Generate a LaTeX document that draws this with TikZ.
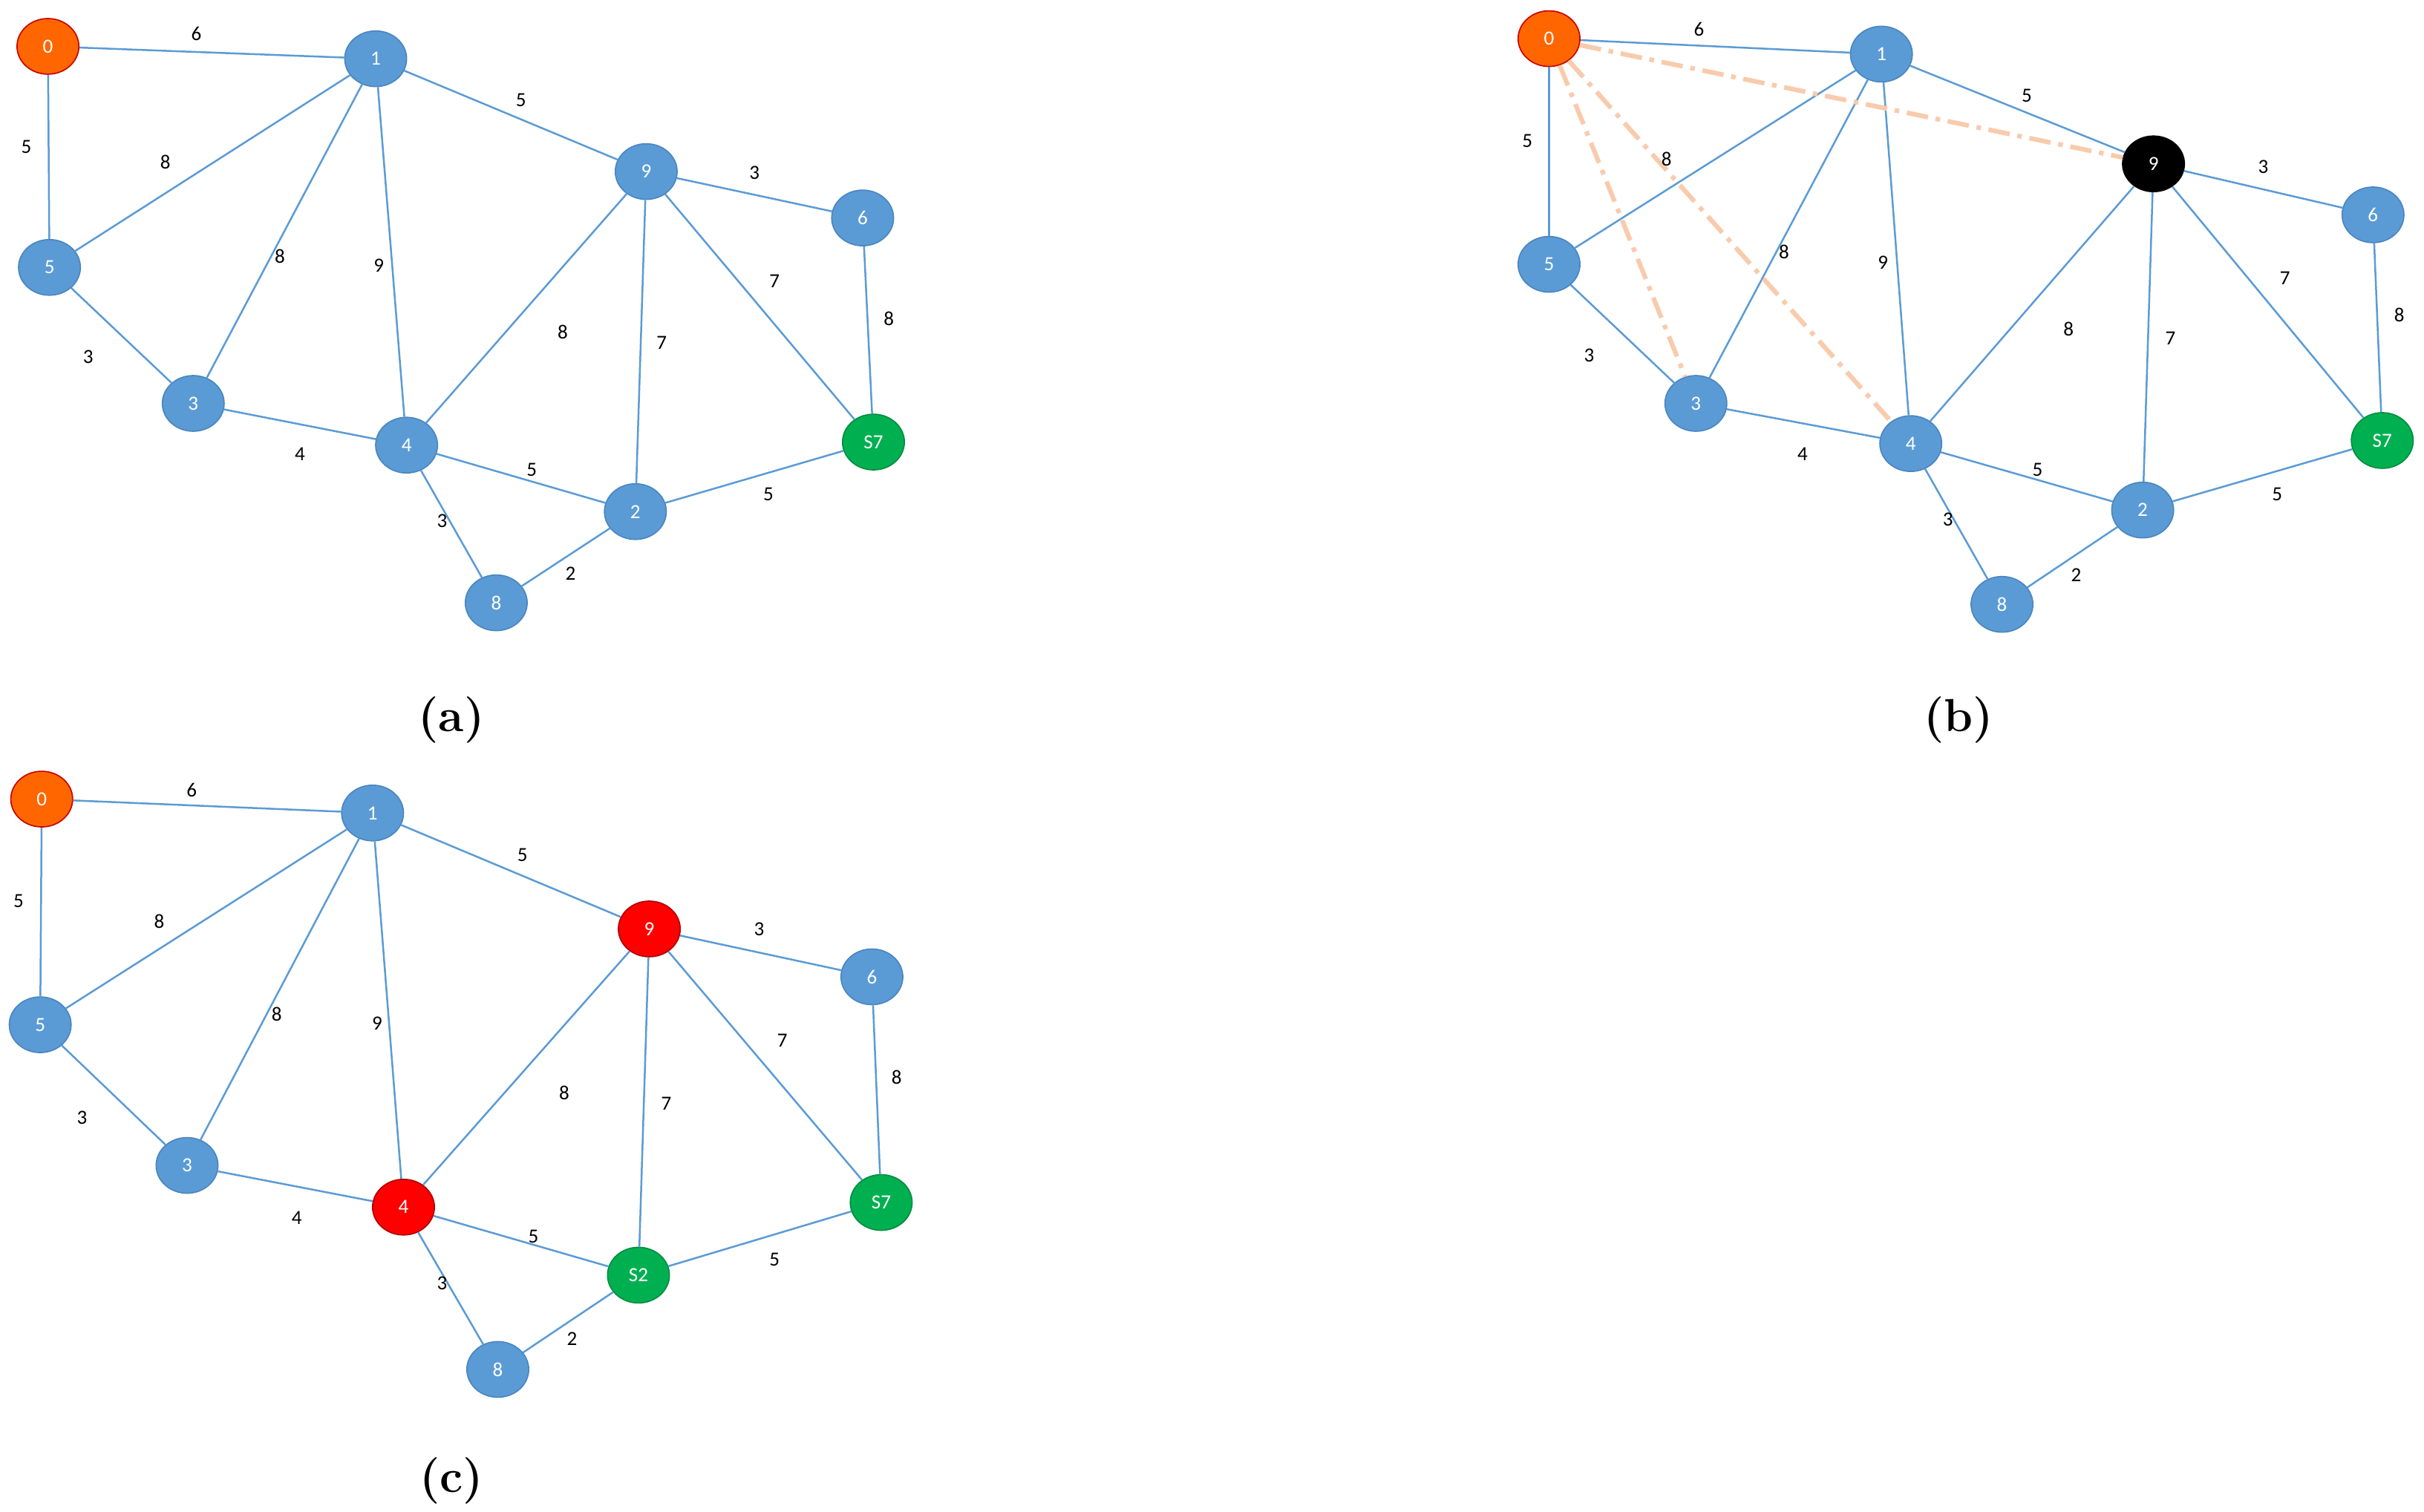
\documentclass[tikz,border=0pt]{standalone}
\usepackage{fontspec}
\usetikzlibrary{shapes.geometric}
\newfontfamily\carl{Carlito}
\begin{document}
\begin{tikzpicture}[x=1pt,y=-1pt,
 v/.style={ellipse,draw=vb,fill=vf,minimum width=40pt,minimum height=36pt,inner sep=0pt,text=white,font=\carl\fontsize{13}{15}\selectfont,line width=0.8pt},
 org/.style={v,fill=vo,draw=red!80!black},
 grn/.style={v,fill=vg,draw=vg!80!black},
 rd/.style={v,fill=red,draw=red!70!black},
 blk/.style={v,fill=black,draw=black},
 e/.style={draw=vf,line width=1.2pt},
 w/.style={font=\carl\fontsize{13}{15}\selectfont,inner sep=0pt},
 dd/.style={draw=peach,line width=3pt,dash pattern=on 14pt off 5pt on 3pt off 5pt},
 capt/.style={font=\bfseries\fontsize{30}{34}\selectfont}]
\definecolor{vf}{HTML}{5B9BD5}\definecolor{vb}{HTML}{4A86C0}
\definecolor{vo}{HTML}{FF6600}\definecolor{vg}{HTML}{00B050}\definecolor{peach}{HTML}{F8CBAD}
\useasboundingbox (0,0) rectangle (1568,978);
% ---- (a)
\node[org] (a0) at (31,30) {0}; \node[v] (a1) at (243,38) {1}; \node[v] (a9) at (418,111) {9};
\node[v] (a6) at (558,141) {6}; \node[v] (a5) at (32,173) {5}; \node[v] (a3) at (125,261) {3};
\node[v] (a4) at (263,288) {4}; \node[grn] (a7) at (565,286) {S7}; \node[v] (a2) at (411,331) {2};
\node[v] (a8) at (321,390) {8};
\foreach \p/\q in {0/1,0/5,1/5,1/3,1/4,1/9,9/6,9/4,9/2,9/7,6/7,5/3,3/4,4/2,4/8,8/2,2/7}
 \path[e] (a\p) -- (a\q);
\foreach \n/\x/\y/\t in {1/127/22/6,2/17/95/5,3/107/105/8,4/181/166/8,5/245/172/9,6/337/65/5,7/488/112/3,8/364/215/8,9/428/222/7,10/501/182/7,11/575/206/8,12/57/231/3,13/194/294/4,14/344/304/5,15/286/337/3,16/369/371/2,17/497/320/5}
 \node[w] (al\n) at (\x,\y) {\t};
\node[capt] (ca) at (292,466) {(a)};
% ---- (b)
\node[org] (b0) at (1002,25) {0}; \node[v] (b1) at (1217,35) {1}; \node[blk] (b9) at (1393,106) {9};
\node[v] (b6) at (1535,139) {6}; \node[v] (b5) at (1002,171) {5}; \node[v] (b3) at (1097,261) {3};
\node[v] (b4) at (1236,287) {4}; \node[grn] (b7) at (1541,285) {S7}; \node[v] (b2) at (1386,330) {2};
\node[v] (b8) at (1295,391) {8};
\foreach \p/\q in {0/1,0/5,1/5,1/3,1/4,1/9,9/6,9/4,9/2,9/7,6/7,5/3,3/4,4/2,4/8,8/2,2/7}
 \path[e] (b\p) -- (b\q);
\foreach \p in {9,3,4} \path[dd] (b0) -- (b\p);
\foreach \n/\x/\y/\t in {1/1099/19/6,2/988/91/5,3/1078/103/8,4/1154/163/8,5/1218/170/9,6/1311/62/5,7/1464/108/3,8/1338/213/8,9/1404/219/7,10/1478/180/7,11/1552/204/8,12/1028/230/3,13/1166/294/4,14/1318/304/5,15/1260/336/3,16/1343/372/2,17/1473/320/5}
 \node[w] (bl\n) at (\x,\y) {\t};
\node[capt] (cb) at (1267,466) {(b)};
% ---- (c)
\node[org] (c0) at (27,517) {0}; \node[v] (c1) at (241,526) {1}; \node[rd] (c9) at (420,601) {9};
\node[v] (c6) at (564,632) {6}; \node[v] (c5) at (26,663) {5}; \node[v] (c3) at (121,754) {3};
\node[rd] (c4) at (261,781) {4}; \node[grn] (c7) at (570,778) {S7}; \node[grn] (c2) at (413,825) {S2};
\node[v] (c8) at (322,886) {8};
\foreach \p/\q in {0/1,0/5,1/5,1/3,1/4,1/9,9/6,9/4,9/2,9/7,6/7,5/3,3/4,4/2,4/8,8/2,2/7}
 \path[e] (c\p) -- (c\q);
\foreach \n/\x/\y/\t in {1/124/511/6,2/12/583/5,3/103/596/8,4/179/656/8,5/244/662/9,6/338/553/5,7/491/601/3,8/365/707/8,9/431/714/7,10/506/673/7,11/580/697/8,12/53/723/3,13/192/788/4,14/345/800/5,15/286/830/3,16/370/866/2,17/501/815/5}
 \node[w] (cl\n) at (\x,\y) {\t};
\node[capt] (cc) at (292,958) {(c)};
\end{tikzpicture}
\end{document}
